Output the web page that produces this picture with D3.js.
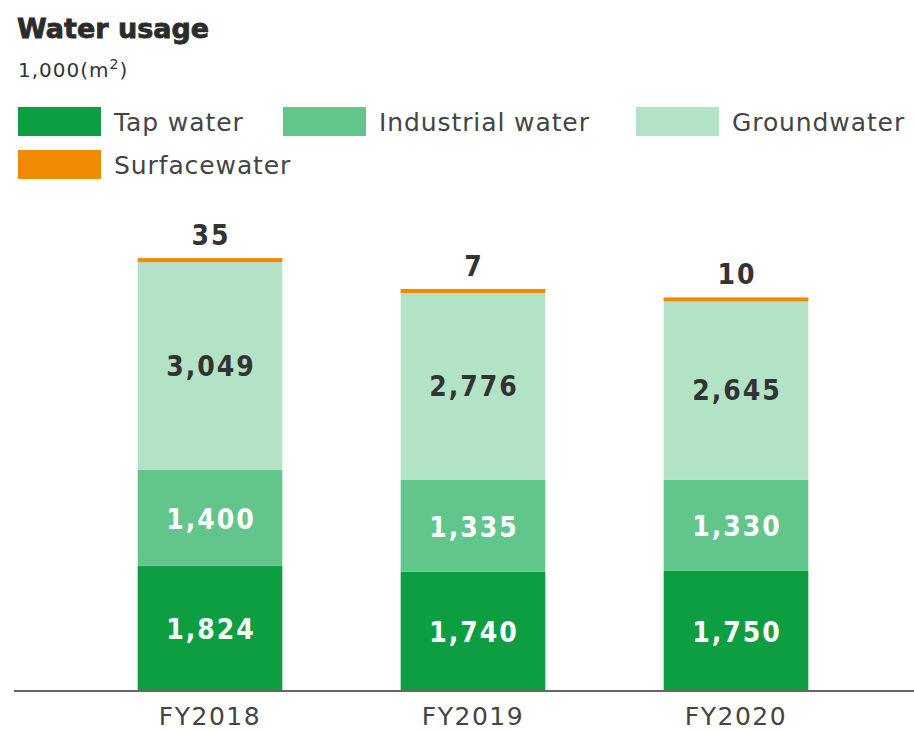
<!DOCTYPE html>
<html>
<head>
<meta charset="utf-8">
<script src="https://cdn.jsdelivr.net/npm/d3@7"></script>
<style>
  body { margin: 0; background: #fff; }
  svg { display: block; }
</style>
</head>
<body>
<script>
// chart data
var years = ["FY2018", "FY2019", "FY2020"];
var seriesNames = ["Tap water", "Industrial water", "Groundwater", "Surfacewater"];
var tapWater = [1824, 1740, 1750];
var industrialWater = [1400, 1335, 1330];
var groundWater = [3049, 2776, 2645];
var surfaceWater = [35, 7, 10];
var colors = ["#0c9e40", "#62c58b", "#b2e3c6", "#f08a00"];

var svgWidth = 914;
var svgHeight = 731;
var baseY = 691;

var svg = d3.select("body")
    .append("svg")
    .attr("width", svgWidth)
    .attr("height", svgHeight);

var fontFamily = "'DejaVu Sans', sans-serif";
var condFamily = "'DejaVu Sans Condensed', 'DejaVu Sans', sans-serif";

// title
svg.append("text")
    .attr("x", 17)
    .attr("y", 38)
    .attr("font-family", fontFamily)
    .attr("font-weight", "bold")
    .attr("font-size", 27)
    .attr("fill", "#2b2b2b")
    .attr("stroke", "#2b2b2b")
    .attr("stroke-width", 0.8)
    .text("Water usage");

var unit = svg.append("text")
    .attr("x", 18)
    .attr("y", 77)
    .attr("font-family", fontFamily)
    .attr("font-size", 20)
    .attr("letter-spacing", 1)
    .attr("fill", "#333");
unit.append("tspan").text("1,000(m");
unit.append("tspan").attr("dy", -8).attr("font-size", 14).text("2");
unit.append("tspan").attr("dy", 8).text(")");

// legend
var legendPos = [[18, 107], [283, 107], [636, 107], [18, 150]];
var legend = svg.selectAll(".legend")
    .data(seriesNames)
    .enter()
    .append("g")
    .attr("class", "legend")
    .attr("transform", (d, i) => `translate(${legendPos[i][0]}, ${legendPos[i][1]})`);

legend.append("rect")
    .attr("width", 83)
    .attr("height", 29)
    .attr("fill", (d, i) => colors[i]);

legend.append("text")
    .attr("x", 96)
    .attr("y", 24)
    .attr("font-family", fontFamily)
    .attr("font-size", 25)
    .attr("letter-spacing", 0.9)
    .attr("fill", "#444")
    .text(d => d);

// stacked data
var rows = years.map(function(y, i) {
    return {
        year: y,
        tap: tapWater[i],
        industrial: industrialWater[i],
        ground: groundWater[i],
        surface: surfaceWater[i]
    };
});
var keys = ["tap", "industrial", "ground", "surface"];
var stacked = d3.stack().keys(keys)(rows);

var xScale = d3.scaleBand()
    .domain(years)
    .range([78.5, 867.5])
    .paddingInner(0.45)
    .paddingOuter(0.225);

var yScale = d3.scaleLinear()
    .domain([0, 7000])
    .range([baseY, baseY - 480.4]);

var layers = svg.selectAll(".layer")
    .data(stacked)
    .enter()
    .append("g")
    .attr("class", "layer")
    .attr("fill", (d, i) => colors[i]);

layers.selectAll("rect")
    .data(d => d)
    .enter()
    .append("rect")
    .attr("x", d => xScale(d.data.year))
    .attr("width", xScale.bandwidth())
    .attr("y", d => yScale(d[1]))
    .attr("height", function(d) {
        var h = yScale(d[0]) - yScale(d[1]);
        return Math.max(h, 4);
    });

// value labels inside bars (first three layers)
var labelColors = ["#fff", "#fff", "#333"];
stacked.slice(0, 3).forEach(function(layer, li) {
    svg.selectAll(".lbl" + li)
        .data(layer)
        .enter()
        .append("text")
        .attr("x", d => xScale(d.data.year) + xScale.bandwidth() / 2 + 1)
        .attr("y", d => (yScale(d[0]) + yScale(d[1])) / 2 + 11)
        .attr("text-anchor", "middle")
        .attr("font-family", condFamily)
        .attr("font-weight", "bold")
        .attr("font-size", 28)
        .attr("letter-spacing", 2)
        .attr("fill", labelColors[li])
        .text(d => d3.format(",")(d[1] - d[0]));
});

// surface water labels above bars
svg.selectAll(".topLabel")
    .data(stacked[3])
    .enter()
    .append("text")
    .attr("x", d => xScale(d.data.year) + xScale.bandwidth() / 2 + 1)
    .attr("y", d => yScale(d[1]) - 13)
    .attr("text-anchor", "middle")
    .attr("font-family", condFamily)
    .attr("font-weight", "bold")
    .attr("font-size", 28)
    .attr("letter-spacing", 2)
    .attr("fill", "#333")
    .text(d => d3.format(",")(d[1] - d[0]));

// x axis
var xAxis = svg.append("g")
    .attr("transform", `translate(0, ${baseY})`)
    .call(d3.axisBottom(xScale).tickSize(0).tickPadding(16));

xAxis.select(".domain").remove();
xAxis.append("line")
    .attr("x1", 14)
    .attr("x2", svgWidth)
    .attr("stroke", "#666")
    .attr("stroke-width", 2);

xAxis.selectAll("text")
    .attr("font-family", fontFamily)
    .attr("font-size", 25)
    .attr("letter-spacing", 1.5)
    .attr("fill", "#444");
</script>
</body>
</html>
